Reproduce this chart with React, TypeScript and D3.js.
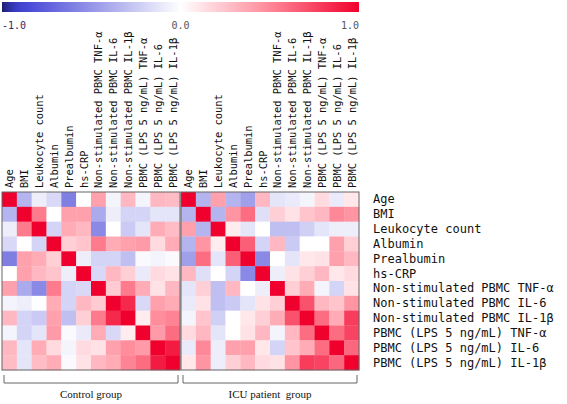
import React from "react";
import * as d3 from "d3";

const variables = [
  "Age",
  "BMI",
  "Leukocyte count",
  "Albumin",
  "Prealbumin",
  "hs-CRP",
  "Non-stimulated PBMC TNF-α",
  "Non-stimulated PBMC IL-6",
  "Non-stimulated PBMC IL-1β",
  "PBMC (LPS 5 ng/mL) TNF-α",
  "PBMC (LPS 5 ng/mL) IL-6",
  "PBMC (LPS 5 ng/mL) IL-1β",
];

const controlMatrix: number[][] = [
  [1, -0.35, -0.08, -0.18, -0.6, 0.0, 0.4, -0.05, 0.3, -0.05, 0.3, 0.28],
  [-0.35, 1, 0.55, 0.0, 0.4, 0.4, -0.4, -0.08, -0.2, -0.2, -0.12, -0.12],
  [-0.08, 0.55, 1, -0.2, 0.35, 0.3, -0.55, 0.0, -0.25, -0.12, 0.35, 0.28],
  [-0.18, 0.0, -0.2, 1, 0.2, 0.25, 0.55, 0.35, 0.4, 0.42, 0.15, 0.35],
  [-0.6, 0.4, 0.35, 0.2, 1, -0.08, -0.2, -0.2, -0.3, -0.03, -0.05, -0.03],
  [0.0, 0.4, 0.3, 0.25, -0.08, 1, -0.18, 0.3, 0.2, -0.1, 0.15, 0.12],
  [0.4, -0.4, -0.55, 0.55, -0.2, -0.18, 1, 0.22, 0.55, 0.35, 0.12, 0.3],
  [-0.05, -0.08, 0.0, 0.35, -0.2, 0.3, 0.22, 1, 0.85, -0.18, 0.4, 0.35],
  [0.3, -0.2, -0.25, 0.4, -0.3, 0.2, 0.55, 0.85, 1, 0.08, 0.48, 0.52],
  [-0.05, -0.2, -0.12, 0.42, -0.03, -0.1, 0.35, -0.18, 0.08, 1, 0.42, 0.6],
  [0.3, -0.12, 0.35, 0.15, -0.05, 0.15, 0.12, 0.4, 0.48, 0.42, 1, 0.9],
  [0.28, -0.12, 0.28, 0.35, -0.03, 0.12, 0.3, 0.35, 0.52, 0.6, 0.9, 1],
];

const icuMatrix: number[][] = [
  [1, -0.35, 0.4, -0.35, -0.45, 0.3, -0.12, -0.1, -0.05, 0.15, -0.1, 0.1],
  [-0.35, 1, -0.35, 0.45, 0.6, -0.15, 0.2, 0.12, 0.25, 0.3, 0.5, 0.45],
  [0.4, -0.35, 1, 0.08, -0.12, 0.0, -0.3, -0.3, -0.22, -0.12, -0.08, -0.08],
  [-0.35, 0.45, 0.08, 1, 0.65, -0.2, 0.3, -0.25, 0.0, 0.0, 0.4, 0.2],
  [-0.45, 0.6, -0.12, 0.65, 1, -0.55, 0.0, -0.12, 0.1, 0.12, 0.4, 0.3],
  [0.3, -0.15, 0.0, -0.2, -0.55, 1, -0.08, 0.12, 0.2, 0.3, 0.1, 0.15],
  [-0.12, 0.2, -0.3, 0.3, 0.0, -0.08, 1, 0.2, 0.35, -0.05, -0.2, 0.12],
  [-0.1, 0.12, -0.3, -0.25, -0.12, 0.12, 0.2, 1, 0.7, 0.3, 0.25, 0.45],
  [-0.05, 0.25, -0.22, 0.0, 0.1, 0.2, 0.35, 0.7, 1, 0.6, 0.35, 0.78],
  [0.15, 0.3, -0.12, 0.0, 0.12, 0.3, -0.05, 0.3, 0.6, 1, 0.6, 0.75],
  [-0.1, 0.5, -0.08, 0.4, 0.4, 0.1, -0.2, 0.25, 0.35, 0.6, 1, 0.62],
  [0.1, 0.45, -0.08, 0.2, 0.3, 0.15, 0.12, 0.45, 0.78, 0.75, 0.62, 1],
];

const groupLabels = ["Control group", "ICU patient  group"];
const colorTicks = [-1, 0, 1];

const colorDomain = [-1, -0.93, -0.85, 0, 0.5, 1];
const colorRange = ["#1e1e70", "#3c3cc8", "#4a4ad8", "#ffffff", "#ff8898", "#f0002c"];

const W = 567;
const H = 404;
const Y0 = 192;
const SIZE = 178;
const MATRIX_X = [2, 181];

export default function App() {
  const color = d3.scaleLinear<string>().domain(colorDomain).range(colorRange).interpolate(d3.interpolateRgb);
  const band = d3.scaleBand<number>().domain(d3.range(variables.length)).range([0, SIZE]).padding(0);
  const cell = band.bandwidth();
  const cbScale = d3.scaleLinear().domain([-1, 1]).range([2, 359]);
  const stops = d3.range(0, 41).map((i) => -1 + i / 20);
  const matrices = [controlMatrix, icuMatrix];
  const mono = "'DejaVu Sans Mono', monospace";

  return (
    <div style={{ position: "fixed", left: 0, top: 0 }}>
      <svg width={W} height={H} style={{ display: "block", background: "#fff" }}>
        <defs>
          <linearGradient id="cb" x1="0" x2="1" y1="0" y2="0">
            {stops.map((v, i) => (
              <stop key={i} offset={(v + 1) / 2} stopColor={color(v)} />
            ))}
          </linearGradient>
        </defs>
        <rect x={cbScale(-1)} y={2} width={cbScale(1) - cbScale(-1)} height={10} fill="url(#cb)" />
        {colorTicks.map((t, i) => (
          <text
            key={i}
            x={cbScale(t)}
            y={29}
            fontFamily={mono}
            fontSize={10}
            fill={t < 0 ? "#2a2a6a" : "#555"}
            textAnchor={i === 0 ? "start" : i === colorTicks.length - 1 ? "end" : "middle"}
          >
            {t.toFixed(1)}
          </text>
        ))}

        {matrices.map((m, mi) => {
          const x0 = MATRIX_X[mi];
          return (
            <g key={mi}>
              {m.map((row, i) =>
                row.map((v, j) => (
                  <rect
                    key={`${i}-${j}`}
                    x={x0 + (band(j) as number)}
                    y={Y0 + (band(i) as number)}
                    width={cell + 0.3}
                    height={cell + 0.3}
                    fill={color(v)}
                  />
                ))
              )}
              <rect x={x0} y={Y0} width={SIZE} height={SIZE} fill="none" stroke="#666" strokeWidth={1} />
              {variables.map((name, j) => {
                const cx = x0 + (band(j) as number) + cell / 2 + 4;
                return (
                  <text
                    key={j}
                    transform={`translate(${cx},188) rotate(-90)`}
                    fontFamily={mono}
                    fontSize={10.4}
                    fill="#111"
                  >
                    {name}
                  </text>
                );
              })}
              <path
                d={`M${x0 + 2},375V383H${x0 + SIZE - 2}V375`}
                fill="none"
                stroke="#666"
                strokeWidth={1}
              />
              <text
                x={x0 + SIZE / 2}
                y={398}
                textAnchor="middle"
                fontFamily="'Liberation Serif', serif"
                fontSize={11}
                fill="#111"
                style={{ whiteSpace: "pre" }}
              >
                {groupLabels[mi]}
              </text>
            </g>
          );
        })}

        {variables.map((name, i) => (
          <text
            key={i}
            x={373}
            y={Y0 + (band(i) as number) + cell / 2 + 4}
            fontFamily={mono}
            fontSize={12}
            fill="#111"
          >
            {name}
          </text>
        ))}
      </svg>
    </div>
  );
}
